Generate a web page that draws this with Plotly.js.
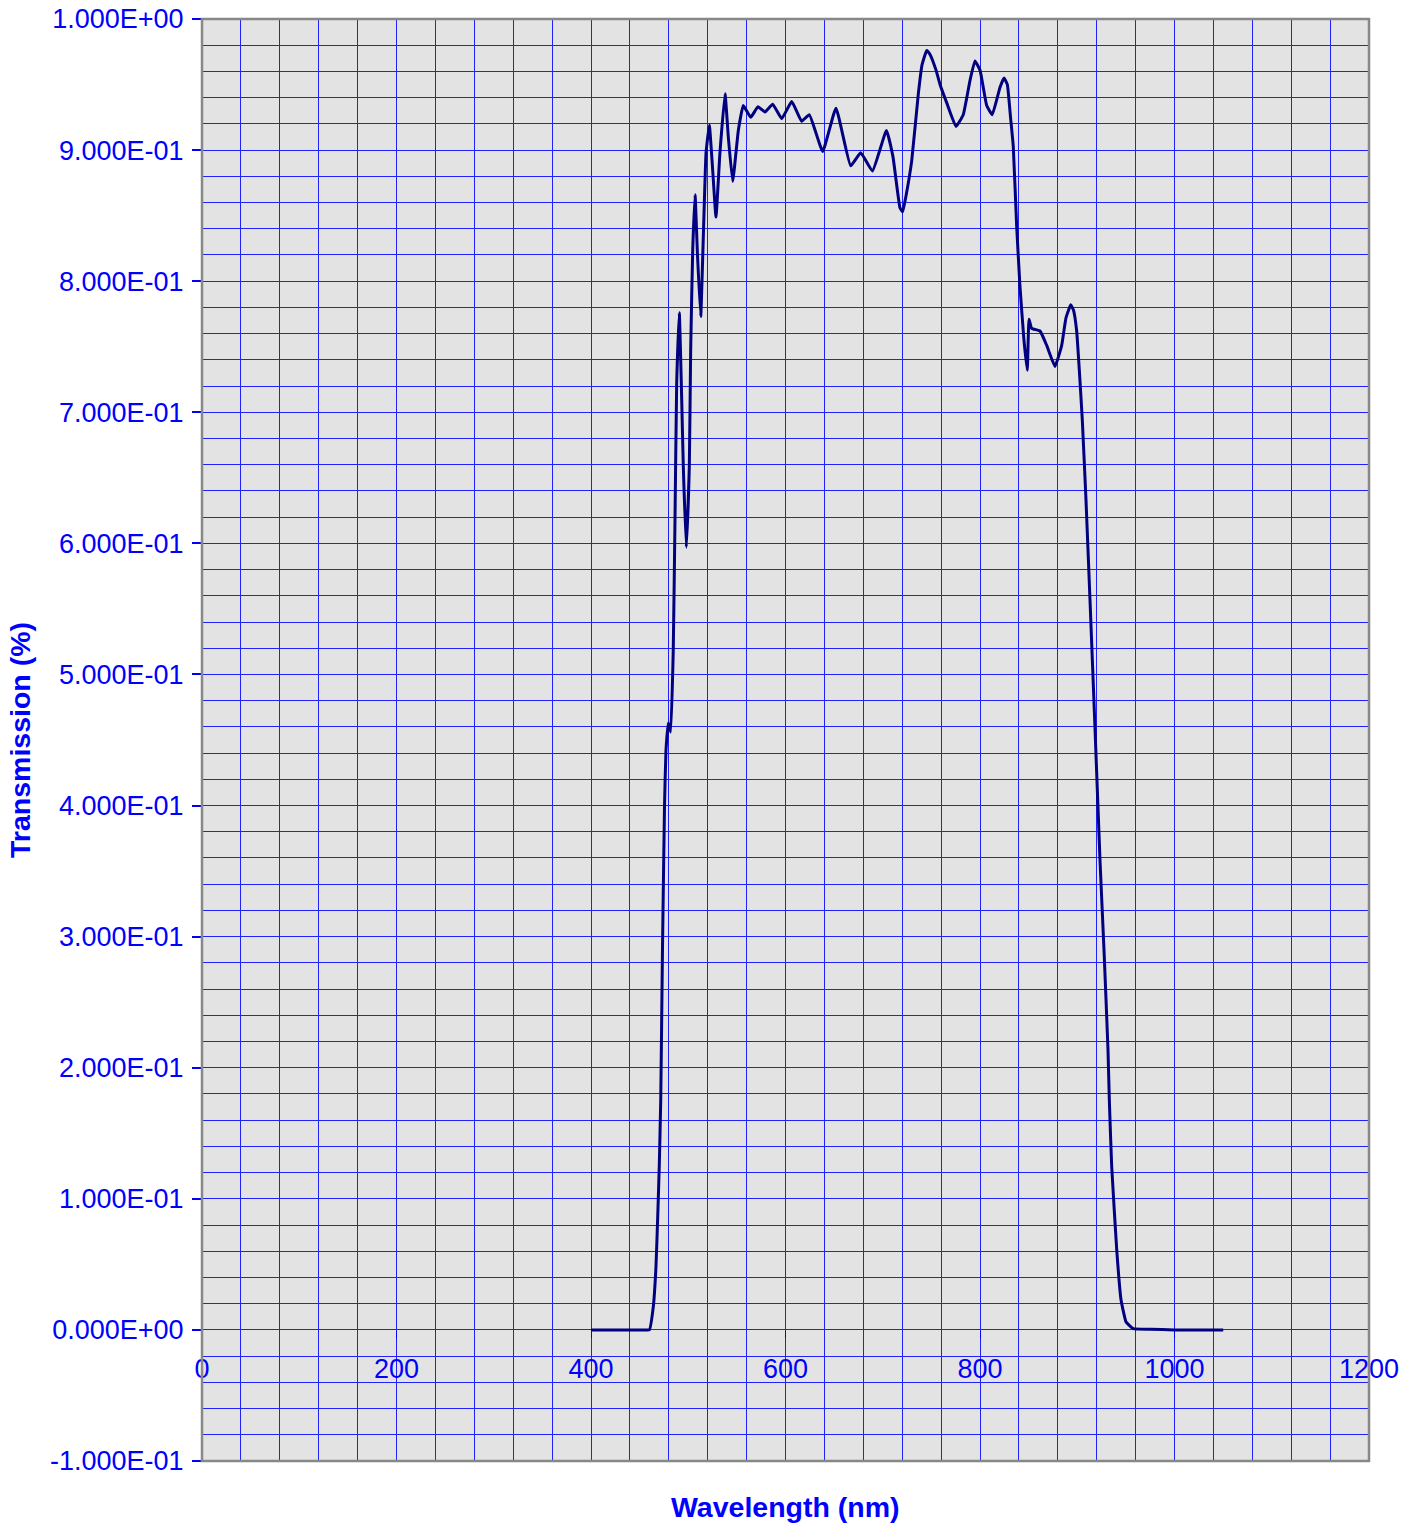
<!DOCTYPE html>
<html>
<head>
<meta charset="utf-8">
<script src="https://cdn.plot.ly/plotly-3.0.1.min.js"></script>
<style>html,body{margin:0;padding:0;background:#fff;}#chart{width:1413px;height:1528px;}</style>
</head>
<body>
<div id="chart"></div>
<script>
// Wavelength (nm)
const wavelength = [400.0,430.0,455.0,460.0,464.1,466.8,468.6,470.2,471.7,473.5,475.6,477.1,479.5,481.9,484.6,486.4,488.1,490.8,493.3,494.9,498.0,501.1,502.5,504.6,507.0,509.5,512.8,515.5,518.3,521.7,525.1,528.5,532.6,537.8,541.2,545.7,551.5,556.6,564.2,571.7,578.9,586.8,596.1,606.4,616.6,624.5,638.2,651.9,667.0,677.3,689.4,703.8,710.5,717.7,720.5,723.9,729.8,736.6,740.4,745.2,748.6,754.8,758.9,765.8,775.3,782.8,789.7,794.8,800.0,806.9,812.6,820.6,824.7,828.1,831.4,834.2,837.7,841.1,845.2,848.6,850.4,853.1,861.7,868.6,877.1,884.0,888.4,893.3,896.1,899.4,902.3,905.2,909.0,913.1,918.3,923.4,927.5,931.6,933.0,935.4,940.6,945.0,950.2,957.6,974.8,1000.0,1050.1];
// Transmission
const transmission = [0,0,0,0,0.018,0.048,0.086,0.125,0.175,0.29,0.40,0.442,0.463,0.456,0.519,0.620,0.722,0.776,0.709,0.659,0.597,0.659,0.748,0.824,0.866,0.82,0.773,0.834,0.898,0.919,0.885,0.849,0.898,0.943,0.910,0.876,0.915,0.934,0.925,0.933,0.929,0.935,0.924,0.937,0.922,0.927,0.899,0.932,0.888,0.898,0.884,0.915,0.895,0.856,0.853,0.865,0.892,0.943,0.965,0.976,0.973,0.961,0.95,0.936,0.918,0.927,0.953,0.968,0.961,0.934,0.927,0.948,0.955,0.95,0.925,0.903,0.842,0.796,0.755,0.732,0.771,0.764,0.762,0.751,0.735,0.751,0.772,0.782,0.778,0.762,0.73,0.694,0.633,0.557,0.458,0.358,0.29,0.214,0.175,0.125,0.061,0.023,0.006,0.001,0.0005,0,0];

// Labelled ticks
const xTickVals = [0,200,400,600,800,1000,1200];
const xTickText = ['0','200','400','600','800','1000','1200'];
const yTickVals = [-0.1,0,0.1,0.2,0.3,0.4,0.5,0.6,0.7,0.8,0.9,1.0];
const yTickText = ['-1.000E-01','0.000E+00','1.000E-01','2.000E-01','3.000E-01','4.000E-01','5.000E-01','6.000E-01','7.000E-01','8.000E-01','9.000E-01','1.000E+00'];
// Grid spacing
const xGridStep = 40;
const yGridStep = 0.02;

const FONT = 'Liberation Sans, Arial, sans-serif';
const BLUE = '#0000ff';
const GRID = '#2020ff';

const trace = {
  x: wavelength, y: transmission, type: 'scatter', mode: 'lines',
  xaxis: 'x', yaxis: 'y',
  line: {color: '#000080', width: 3, shape: 'spline', smoothing: 0.35},
  hoverinfo: 'x+y', showlegend: false
};

const layout = {
  width: 1413, height: 1528,
  margin: {l: 202, r: 44, t: 19, b: 67},
  paper_bgcolor: '#ffffff',
  plot_bgcolor: '#e3e3e3',
  font: {family: FONT, color: BLUE, size: 27},
  // grid axes
  xaxis: {
    range: [0, 1200], tickmode: 'linear', tick0: 0, dtick: xGridStep,
    showticklabels: false, ticks: '',
    showgrid: true, gridcolor: GRID, gridwidth: 1,
    showline: false, zeroline: false, automargin: false
  },
  yaxis: {
    range: [-0.1, 1.0], tickmode: 'linear', tick0: 0, dtick: yGridStep,
    showticklabels: false, ticks: '',
    showgrid: true, gridcolor: GRID, gridwidth: 1,
    showline: false, zeroline: false, automargin: false
  },
  // label axes
  xaxis2: {
    overlaying: 'x', matches: 'x', range: [0, 1200],
    tickmode: 'array', tickvals: xTickVals, ticktext: xTickText,
    anchor: 'free', position: 0.1/1.1, side: 'bottom',
    showgrid: false, zeroline: false, showline: false,
    ticks: 'outside', ticklen: 7, tickcolor: BLUE, tickwidth: 1,
    ticklabelstandoff: 8,
    tickfont: {family: FONT, color: BLUE, size: 27},
    automargin: false
  },
  yaxis2: {
    overlaying: 'y', matches: 'y', range: [-0.1, 1.0],
    tickmode: 'array', tickvals: yTickVals, ticktext: yTickText,
    anchor: 'x', side: 'left',
    showgrid: false, zeroline: false, showline: false,
    ticks: 'outside', ticklen: 9, tickcolor: BLUE, tickwidth: 2,
    ticklabelstandoff: 3,
    tickfont: {family: FONT, color: BLUE, size: 27},
    automargin: false
  },
  shapes: [{
    type: 'rect', xref: 'paper', yref: 'paper', x0: 0, x1: 1, y0: 0, y1: 1,
    line: {color: '#888888', width: 2.5}, fillcolor: 'rgba(0,0,0,0)', layer: 'above'
  }],
  annotations: [
    {text: '<b>Wavelength (nm)</b>', xref: 'paper', yref: 'paper', x: 0.5, y: 0,
     yshift: -46, showarrow: false, xanchor: 'center', yanchor: 'middle',
     font: {family: FONT, color: BLUE, size: 28.5}},
    {text: '<b>Transmission (%)</b>', xref: 'paper', yref: 'paper', x: 0, y: 0.5,
     xshift: -182, showarrow: false, xanchor: 'center', yanchor: 'middle', textangle: -90,
     font: {family: FONT, color: BLUE, size: 28.5}}
  ]
};

// dummy traces so the label axes render
const dummy = {x: [0], y: [0], xaxis: 'x2', yaxis: 'y2', type: 'scatter', mode: 'markers',
  marker: {opacity: 0}, hoverinfo: 'skip', showlegend: false};

Plotly.newPlot('chart', [trace, dummy], layout, {displayModeBar: false, staticPlot: true});
</script>
</body>
</html>
